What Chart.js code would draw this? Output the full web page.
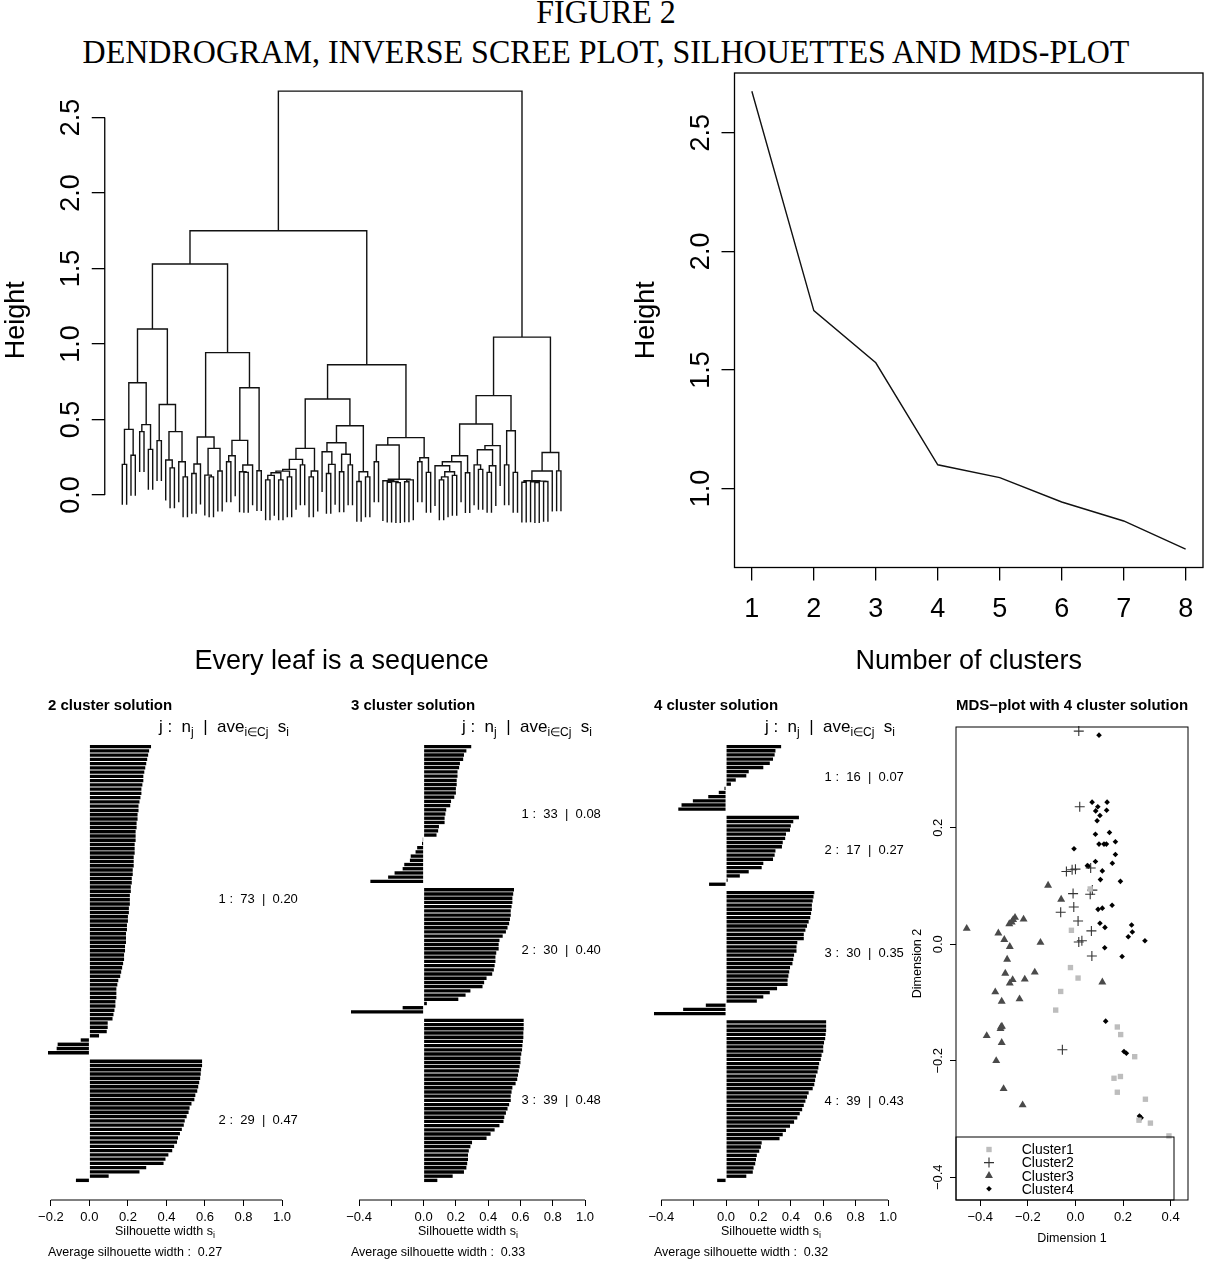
<!DOCTYPE html>
<html>
<head>
<meta charset="utf-8">
<title>Figure 2</title>
<script src="https://cdn.jsdelivr.net/npm/chart.js@4.4.1/dist/chart.umd.min.js"></script>
<style>
  body { margin: 0; background: #fff; }
  #page { position: relative; width: 1212px; height: 1265px; overflow: hidden; background: #fff; }
  canvas { position: absolute; }
  .head { position: absolute; left: 0; width: 1212px; text-align: center; white-space: nowrap;
          font-family: 'Liberation Serif', 'Times New Roman', serif; font-size: 33px; line-height: 33px; color: #000;
          transform: scaleX(0.97); transform-origin: 606px 0; }
</style>
</head>
<body>
<div id="page">
  <div class="head" style="top:-4px">FIGURE 2</div>
  <div class="head" style="top:36px">DENDROGRAM, INVERSE SCREE PLOT, SILHOUETTES AND MDS-PLOT</div>
  <canvas id="dendro" width="606" height="614" style="left:0;top:66px"></canvas>
  <canvas id="scree" width="606" height="614" style="left:606px;top:66px"></canvas>
  <canvas id="sil2" width="303" height="575" style="left:0;top:690px"></canvas>
  <canvas id="sil3" width="303" height="575" style="left:303px;top:690px"></canvas>
  <canvas id="sil4" width="303" height="575" style="left:606px;top:690px"></canvas>
  <canvas id="mds" width="303" height="575" style="left:909px;top:690px"></canvas>
</div>
<script>
const FONT = "'Liberation Sans', Arial, Helvetica, sans-serif";
Chart.defaults.font.family = FONT;
Chart.defaults.color = '#000';
Chart.defaults.animation = false;
Chart.defaults.events = [];
Chart.defaults.plugins.legend.display = false;
Chart.defaults.plugins.tooltip.enabled = false;

// ---------- dendrogram (each node: [height, left, right], L = a leaf) ----------
const L = 0;
const upperMerges = [2.675, 1.75, 1.53];
const clusterA = [1.10,
  [0.744, [0.435, [0.203, L, L], [0.263, L, L]], [0.466, [0.42, L, L], [0.302, L, L]]],
  [0.60, [0.36, L, L], [0.42, [0.232, L, [0.18, L, L]], [0.22, L, [0.12, L, L]]]]];
const clusterB = [0.943,
  [0.384, [0.205, [0.143, L, L], L], [0.309, [0.132, L, [0.12, L, L]], [0.159, L, L]]],
  [0.71, [0.362, [0.26, [0.22, L, L], L], [0.199, [0.154, L, [0.15, L, L]], L]], [0.161, L, L]]];
const clusterC = [0.863,
  [0.636,
    [0.309,
      [0.236, [0.17, [0.158, [0.148, [0.13, [0.1, L, L], L], [0.1, L, L]], [0.12, L, L]], L], [0.2, L, L]],
      [0.159, [0.12, L, L], L]],
    [0.459,
      [0.346, [0.287, L, [0.203, [0.143, L, L], L]], [0.27, [0.154, L, L], [0.2, L, L]]],
      [0.154, [0.09, L, L], [0.12, L, L]]]],
  [0.38,
    [0.331, [0.22, L, L], [0.104, [0.095, L, [0.09, [0.085, L, L], [0.082, L, L]]], [0.1, [0.088, L, L], L]]],
    [0.247, [0.22, L, L], [0.15, L, L]]]];
const clusterD = [1.046,
  [0.658,
    [0.47,
      [0.26, [0.22, [0.194, L, [0.154, [0.12, [0.1, L, L], L], [0.13, L, L]]], L], [0.148, L, L]],
      [0.327, [0.3, [0.2, L, [0.17, L, L]], [0.194, [0.15, L, L], L]], L]],
    [0.426, [0.2, L, L], [0.15, L, L]]],
  [0.282,
    [0.159, [0.095, [0.085, L, L], [0.092, [0.088, L, [0.083, L, L]], [0.09, L, L]]], L],
    [0.16, L, L]]];
const dendroTicks = [0, 0.5, 1, 1.5, 2, 2.5];
const dendroTickLabels = ['0.0', '0.5', '1.0', '1.5', '2.0', '2.5'];

// ---------- inverse scree plot ----------
const screeClusters = [1, 2, 3, 4, 5, 6, 7, 8];
const screeHeights = [2.675, 1.75, 1.53, 1.10, 1.046, 0.943, 0.863, 0.744];
const screeYTicks = [1.0, 1.5, 2.0, 2.5];
const screeYLabels = ['1.0', '1.5', '2.0', '2.5'];

// ---------- silhouettes (bars top to bottom inside each cluster) ----------
const k2c1 = [0.32, 0.31, 0.305, 0.30, 0.295, 0.29, 0.285, 0.28, 0.28, 0.275,
  0.27, 0.27, 0.265, 0.26, 0.255, 0.255, 0.25, 0.25, 0.245, 0.245,
  0.24, 0.24, 0.24, 0.235, 0.235, 0.235, 0.23, 0.23, 0.23, 0.225,
  0.225, 0.22, 0.22, 0.215, 0.215, 0.21, 0.21, 0.21, 0.205, 0.205,
  0.20, 0.20, 0.195, 0.195, 0.19, 0.19, 0.19, 0.185, 0.185, 0.18,
  0.18, 0.175, 0.17, 0.165, 0.16, 0.15, 0.145, 0.14, 0.14, 0.14,
  0.135, 0.135, 0.13, 0.125, 0.12, 0.095, 0.095, 0.09, 0.05,
  -0.045, -0.165, -0.17, -0.215];
const k2c2 = [0.585, 0.585, 0.58, 0.578, 0.575, 0.57, 0.565, 0.56, 0.55, 0.545,
  0.53, 0.52, 0.515, 0.505, 0.495, 0.49, 0.48, 0.47, 0.46, 0.455,
  0.44, 0.43, 0.41, 0.395, 0.385, 0.295, 0.26, 0.10, -0.07];
const k2Means = ['0.20', '0.47'];
const k2Overall = '0.27';

const k3c1 = [0.295, 0.265, 0.25, 0.245, 0.225, 0.22, 0.21, 0.21, 0.205, 0.205,
  0.2, 0.2, 0.19, 0.17, 0.165, 0.14, 0.135, 0.13, 0.13, 0.095, 0.09, 0.08,
  -0.005, -0.01, -0.04, -0.05, -0.08, -0.085, -0.12, -0.13, -0.18, -0.22, -0.33];
const k3c2 = [0.56, 0.555, 0.55, 0.55, 0.545, 0.54, 0.54, 0.535, 0.53, 0.52,
  0.51, 0.49, 0.47, 0.465, 0.465, 0.45, 0.445, 0.445, 0.44, 0.435,
  0.425, 0.39, 0.375, 0.365, 0.29, 0.26, 0.215, 0.02, -0.13, -0.45];
const k3c3 = [0.62, 0.62, 0.62, 0.618, 0.618, 0.615, 0.612, 0.61, 0.605, 0.6,
  0.6, 0.595, 0.59, 0.585, 0.58, 0.57, 0.55, 0.545, 0.54, 0.54,
  0.53, 0.52, 0.51, 0.5, 0.495, 0.47, 0.44, 0.415, 0.39, 0.3,
  0.29, 0.28, 0.275, 0.275, 0.27, 0.265, 0.25, 0.18, 0.085];
const k3Means = ['0.08', '0.40', '0.48'];
const k3Overall = '0.33';

const k4c1 = [0.34, 0.305, 0.3, 0.29, 0.27, 0.23, 0.14, 0.125, 0.06, 0.03,
  -0.01, -0.045, -0.11, -0.205, -0.275, -0.295];
const k4c2 = [0.45, 0.415, 0.4, 0.395, 0.37, 0.365, 0.35, 0.345, 0.305, 0.3,
  0.29, 0.23, 0.22, 0.14, 0.085, 0.01, -0.105];
const k4c3 = [0.545, 0.54, 0.535, 0.53, 0.53, 0.525, 0.52, 0.51, 0.5, 0.49,
  0.48, 0.48, 0.44, 0.435, 0.435, 0.42, 0.415, 0.41, 0.395, 0.39,
  0.385, 0.38, 0.38, 0.315, 0.27, 0.23, 0.19, -0.125, -0.265, -0.445];
const k4c4 = [0.618, 0.618, 0.618, 0.615, 0.612, 0.605, 0.6, 0.6, 0.59, 0.585,
  0.575, 0.57, 0.565, 0.555, 0.55, 0.545, 0.535, 0.51, 0.5, 0.49,
  0.48, 0.47, 0.455, 0.44, 0.42, 0.395, 0.37, 0.35, 0.33, 0.22,
  0.215, 0.205, 0.19, 0.185, 0.18, 0.17, 0.165, 0.125, -0.055];
const k4Means = ['0.07', '0.27', '0.35', '0.43'];
const k4Overall = '0.32';

const silTicksNarrow = [-0.2, 0, 0.2, 0.4, 0.6, 0.8, 1.0];
const silLabelsNarrow = ['\u22120.2', '0.0', '0.2', '0.4', '0.6', '0.8', '1.0'];
const silTicksWide = [-0.4, -0.2, 0, 0.2, 0.4, 0.6, 0.8, 1.0];
const silLabelsWide = ['\u22120.4', '', '0.0', '0.2', '0.4', '0.6', '0.8', '1.0'];

// ---------- MDS plot ----------
const mdsX1 = [-0.017, -0.021, 0.011, -0.062, -0.083, 0.062, 0.176, 0.19, 0.249, 0.162, 0.189, 0.176, 0.294, 0.267, 0.315, 0.393];
const mdsY1 = [0.024, -0.040, -0.058, -0.081, -0.113, 0.095, -0.142, -0.155, -0.193, -0.230, -0.227, -0.254, -0.266, -0.302, -0.307, -0.329];
const mdsX2 = [0.014, 0.018, -0.038, -0.014, 0, 0.064, -0.01, 0.071, 0.062, -0.062, -0.007, 0.011, 0.014, 0.027, 0.067, 0.069, -0.055];
const mdsY2 = [0.366, 0.236, 0.125, 0.128, 0.129, 0.131, 0.087, 0.093, 0.086, 0.055, 0.064, 0.040, 0.004, 0.006, 0.023, -0.020, -0.181];
const mdsX3 = [-0.457, -0.324, -0.299, -0.276, -0.287, -0.295, -0.264, -0.276, -0.337, -0.310,
  -0.235, -0.213, -0.171, -0.147, -0.278, -0.268, -0.254, -0.218, -0.115, -0.060,
  0.113, -0.373, -0.315, -0.309, -0.310, -0.333, -0.302, -0.222, -0.262, -0.313];
const mdsY3 = [0.027, 0.019, 0.008, -0.004, -0.026, -0.050, -0.061, -0.067, -0.082, -0.098,
  -0.094, -0.060, -0.048, 0.003, 0.035, 0.038, 0.046, 0.043, 0.101, 0.077,
  -0.065, -0.157, -0.145, -0.141, -0.169, -0.200, -0.248, -0.276, 0.042, -0.142];
const mdsX4 = [0.099, 0.07, 0.133, 0.094, 0.085, 0.131, 0.103, 0.091, 0.143, 0.084,
  0.099, 0.120, 0.130, 0.168, 0.168, -0.006, 0.055, 0.084, 0.155, 0.113,
  0.105, 0.189, 0.095, 0.113, 0.154, 0.103, 0.124, 0.236, 0.239, 0.222,
  0.292, 0.123, 0.196, 0.127, 0.204, 0.214, 0.269, 0.276, 0.05];
const mdsY4 = [0.359, 0.244, 0.244, 0.236, 0.229, 0.230, 0.221, 0.212, 0.192, 0.189,
  0.172, 0.172, 0.172, 0.176, 0.154, 0.164, 0.134, 0.142, 0.139, 0.126,
  0.111, 0.108, 0.060, 0.062, 0.067, 0.036, 0.029, 0.033, 0.021, 0.013,
  0.006, -0.006, -0.021, -0.132, -0.184, -0.187, -0.295, -0.298, 0.135];
const mdsNames = ['Cluster1', 'Cluster2', 'Cluster3', 'Cluster4'];
const mdsXRange = [-0.502, 0.473];
const mdsYRange = [-0.439, 0.373];
const mdsXTicks = [-0.4, -0.2, 0, 0.2, 0.4];
const mdsXLabels = ['\u22120.4', '\u22120.2', '0.0', '0.2', '0.4'];
const mdsYTicks = [-0.4, -0.2, 0, 0.2];
const mdsYLabels = ['\u22120.4', '\u22120.2', '0.0', '0.2'];

// ---------- helpers ----------
function rotatedYLabels(ctx, scale, ticks, labels, x, size) {
  ctx.save();
  ctx.font = size + 'px ' + FONT;
  ctx.fillStyle = '#000';
  ctx.textAlign = 'center';
  ctx.textBaseline = 'alphabetic';
  ticks.forEach((v, i) => {
    ctx.save();
    ctx.translate(x, scale.getPixelForValue(v));
    ctx.rotate(-Math.PI / 2);
    ctx.fillText(labels[i], 0, 0);
    ctx.restore();
  });
  ctx.restore();
}

// text pieces [text, subscript?] written left to right
function pieceText(ctx, pieces, x, baseline, size, align) {
  const sub = Math.round(size * 0.72);
  let total = 0;
  pieces.forEach(p => { ctx.font = (p[1] ? sub : size) + 'px ' + FONT; total += ctx.measureText(p[0]).width; });
  let cx = align === 'right' ? x - total : align === 'center' ? x - total / 2 : x;
  ctx.textAlign = 'left';
  ctx.textBaseline = 'alphabetic';
  pieces.forEach(p => {
    ctx.font = (p[1] ? sub : size) + 'px ' + FONT;
    ctx.fillText(p[0], cx, baseline + (p[1] ? size * 0.25 : 0));
    cx += ctx.measureText(p[0]).width;
  });
}

function tickGrid(len, width) {
  return { display: true, drawOnChartArea: false, drawTicks: true, tickLength: len, color: '#000', lineWidth: width };
}

// ---------- dendrogram ----------
const dendroTree = [upperMerges[0], [upperMerges[1], [upperMerges[2], clusterA, clusterB], clusterC], clusterD];
const HANG = 0.1 * upperMerges[0];
const dendroSegments = [];
let leafNo = 0;
function placeNode(node) {
  if (node === L) return { x: ++leafNo, h: null };
  const [h, a, b] = node;
  const p = placeNode(a), q = placeNode(b);
  dendroSegments.push(
    { x: p.x, y: p.h === null ? h - HANG : p.h },
    { x: p.x, y: h }, { x: q.x, y: h },
    { x: q.x, y: q.h === null ? h - HANG : q.h },
    { x: q.x, y: null });
  return { x: (p.x + q.x) / 2, h: h };
}
placeNode(dendroTree);

new Chart(document.getElementById('dendro'), {
  type: 'scatter',
  data: { datasets: [{ data: dendroSegments, showLine: true, spanGaps: false, borderColor: '#111',
                       borderWidth: 1.4, pointRadius: 0 }] },
  options: {
    responsive: false,
    layout: { padding: { top: 7, right: 27.5, left: 0, bottom: 0 } },
    scales: {
      x: {
        type: 'linear', min: 1 - 0.04 * (leafNo - 1), max: leafNo + 0.04 * (leafNo - 1),
        grid: { display: false }, border: { display: false }, ticks: { display: false },
        title: { display: true, text: 'Every leaf is a sequence', font: { size: 27 }, padding: { top: 0, bottom: 1.8 } },
        afterFit: s => { s.height = 112.5; }
      },
      y: {
        type: 'linear', min: -0.48, max: 2.795,
        afterBuildTicks: s => { s.ticks = dendroTicks.map(v => ({ value: v })); },
        grid: tickGrid(13, 1.3), border: { display: false }, ticks: { display: false },
        title: { display: true, text: 'Height', font: { size: 27 }, padding: { top: 0, bottom: 0 } },
        afterFit: s => { s.width = 104.75; }
      }
    }
  },
  plugins: [{
    id: 'dendroAxis',
    afterDraw(chart) {
      const { ctx, chartArea: a, scales: { y } } = chart;
      ctx.save();
      ctx.strokeStyle = '#000';
      ctx.lineWidth = 1.3;
      ctx.beginPath();
      ctx.moveTo(a.left, y.getPixelForValue(dendroTicks[0]));
      ctx.lineTo(a.left, y.getPixelForValue(dendroTicks[dendroTicks.length - 1]));
      ctx.stroke();
      ctx.restore();
      rotatedYLabels(ctx, y, dendroTicks, dendroTickLabels, a.left - 26, 27);
    }
  }]
});

// ---------- scree ----------
const screeLo = Math.min(...screeHeights), screeHi = Math.max(...screeHeights);
const screePad = 0.04 * (screeHi - screeLo);
const screeXPad = 0.04 * (screeClusters[screeClusters.length - 1] - screeClusters[0]);
new Chart(document.getElementById('scree'), {
  type: 'scatter',
  data: { datasets: [{ data: screeClusters.map((k, i) => ({ x: k, y: screeHeights[i] })), showLine: true,
                       borderColor: '#111', borderWidth: 1.4, pointRadius: 0 }] },
  options: {
    responsive: false,
    layout: { padding: { top: 7, right: 9, left: 0, bottom: 0 } },
    scales: {
      x: {
        type: 'linear', min: screeClusters[0] - screeXPad, max: screeClusters[screeClusters.length - 1] + screeXPad,
        afterBuildTicks: s => { s.ticks = screeClusters.map(v => ({ value: v })); },
        grid: tickGrid(13, 1.3), border: { display: false },
        ticks: { font: { size: 27 }, padding: 13, maxRotation: 0, autoSkip: false, callback: v => String(v) },
        title: { display: true, text: 'Number of clusters', font: { size: 27 }, padding: { top: 0, bottom: 1.8 } },
        afterFit: s => { s.height = 112.5; }
      },
      y: {
        type: 'linear', min: screeLo - screePad, max: screeHi + screePad,
        afterBuildTicks: s => { s.ticks = screeYTicks.map(v => ({ value: v })); },
        grid: tickGrid(13, 1.3), border: { display: false }, ticks: { display: false },
        title: { display: true, text: 'Height', font: { size: 27 }, padding: { top: 24.8, bottom: 0 } },
        afterFit: s => { s.width = 128.5; }
      }
    }
  },
  plugins: [{
    id: 'screeBox',
    afterDraw(chart) {
      const { ctx, chartArea: a, scales: { y } } = chart;
      ctx.save();
      ctx.strokeStyle = '#000';
      ctx.lineWidth = 1.3;
      ctx.strokeRect(a.left, a.top, a.right - a.left, a.bottom - a.top);
      ctx.restore();
      rotatedYLabels(ctx, y, screeYTicks, screeYLabels, a.left - 26, 27);
    }
  }]
});

// ---------- silhouettes ----------
function silhouettePlot(id, title, clusters, means, overall, ticks, tickLabels) {
  const bars = [];
  const mids = [];
  let slot = 0;
  clusters.forEach((vals, ci) => {
    if (ci > 0) slot += 1;
    const first = slot;
    vals.forEach(v => { bars.push({ x: v, y: slot + 0.5 }); slot += 1; });
    mids.push((first + slot) / 2);
  });
  const total = slot;
  const lo = Math.min(0, ...bars.map(b => b.x));

  new Chart(document.getElementById(id), {
    type: 'bar',
    data: { datasets: [{ data: bars, backgroundColor: '#000', borderWidth: 0, barPercentage: 0.8, categoryPercentage: 1 }] },
    options: {
      responsive: false,
      indexAxis: 'y',
      layout: { padding: { left: 48, right: 21, top: 37, bottom: 0 } },
      scales: {
        x: {
          type: 'linear', min: lo, max: 1,
          afterBuildTicks: s => { s.ticks = ticks.map(v => ({ value: v })); },
          grid: tickGrid(6, 1), border: { display: false },
          ticks: { font: { size: 13 }, padding: 4, maxRotation: 0, autoSkip: false, callback: (v, i) => tickLabels[i] },
          afterFit: s => { s.height = 65; }
        },
        y: { type: 'linear', display: false, reverse: true, offset: false, min: -0.04 * total, max: 1.04 * total }
      }
    },
    plugins: [{
      id: 'silText',
      afterDraw(chart) {
        const { ctx, chartArea: a, scales: { x, y } } = chart;
        ctx.save();
        ctx.strokeStyle = '#000';
        ctx.fillStyle = '#000';
        ctx.lineWidth = 1;
        ctx.beginPath();
        ctx.moveTo(x.getPixelForValue(ticks[0]), a.bottom);
        ctx.lineTo(x.getPixelForValue(ticks[ticks.length - 1]), a.bottom);
        ctx.stroke();

        ctx.font = 'bold 15px ' + FONT;
        ctx.textAlign = 'left';
        ctx.textBaseline = 'alphabetic';
        ctx.fillText(title, a.left, 20);

        pieceText(ctx, [['j :  n', 0], ['j', 1], ['  |  ave', 0], ['i\u2208Cj', 1], ['  s', 0], ['i', 1]],
                  a.right + 0.03 * (a.right - a.left), 42, 17, 'right');

        ctx.font = '13px ' + FONT;
        ctx.textBaseline = 'middle';
        clusters.forEach((vals, i) => {
          const txt = (i + 1) + ' :  ' + vals.length + '  |  ' + means[i];
          const w = ctx.measureText(txt).width;
          ctx.fillText(txt, x.getPixelForValue(1) - 0.8 * w, y.getPixelForValue(mids[i]));
        });

        pieceText(ctx, [['Silhouette width s', 0], ['i', 1]], (a.left + a.right) / 2, 545, 12.5, 'center');

        ctx.font = '12.5px ' + FONT;
        ctx.textAlign = 'left';
        ctx.textBaseline = 'alphabetic';
        ctx.fillText('Average silhouette width :  ' + overall, a.left, 565.5);
        ctx.restore();
      }
    }]
  });
}

silhouettePlot('sil2', '2 cluster solution', [k2c1, k2c2], k2Means, k2Overall, silTicksNarrow, silLabelsNarrow);
silhouettePlot('sil3', '3 cluster solution', [k3c1, k3c2, k3c3], k3Means, k3Overall, silTicksWide, silLabelsWide);
silhouettePlot('sil4', '4 cluster solution', [k4c1, k4c2, k4c3, k4c4], k4Means, k4Overall, silTicksWide, silLabelsWide);

// ---------- MDS ----------
const pts = (xs, ys) => xs.map((v, i) => ({ x: v, y: ys[i] }));
const mdsStyles = [
  { pointStyle: 'rect', radius: 3.8, fill: '#bdbdbd', stroke: '#bdbdbd', width: 0 },
  { pointStyle: 'cross', radius: 5, fill: '#333', stroke: '#333', width: 1.1 },
  { pointStyle: 'triangle', radius: 4.6, fill: '#4a4a4a', stroke: '#4a4a4a', width: 0 },
  { pointStyle: 'rectRot', radius: 2.8, fill: '#000', stroke: '#000', width: 0 }
];
const mdsSeries = [pts(mdsX1, mdsY1), pts(mdsX2, mdsY2), pts(mdsX3, mdsY3), pts(mdsX4, mdsY4)];

new Chart(document.getElementById('mds'), {
  type: 'scatter',
  data: {
    datasets: mdsSeries.map((d, i) => ({
      label: mdsNames[i], data: d, clip: false,
      pointStyle: mdsStyles[i].pointStyle, pointRadius: mdsStyles[i].radius,
      backgroundColor: mdsStyles[i].fill, borderColor: mdsStyles[i].stroke, borderWidth: mdsStyles[i].width
    }))
  },
  options: {
    responsive: false,
    layout: { padding: { left: 0, right: 24, top: 37, bottom: 0 } },
    scales: {
      x: {
        type: 'linear', min: mdsXRange[0], max: mdsXRange[1],
        afterBuildTicks: s => { s.ticks = mdsXTicks.map(v => ({ value: v })); },
        grid: tickGrid(6, 1), border: { display: false },
        ticks: { font: { size: 13 }, padding: 4, maxRotation: 0, autoSkip: false, callback: (v, i) => mdsXLabels[i] },
        title: { display: true, text: 'Dimension 1', font: { size: 12.5 }, padding: { top: 0, bottom: 18.5 } },
        afterFit: s => { s.height = 65; }
      },
      y: {
        type: 'linear', min: mdsYRange[0], max: mdsYRange[1],
        afterBuildTicks: s => { s.ticks = mdsYTicks.map(v => ({ value: v })); },
        grid: tickGrid(6, 1), border: { display: false }, ticks: { display: false },
        title: { display: true, text: 'Dimension 2', font: { size: 12.5 }, padding: { top: 1.5, bottom: 0 } },
        afterFit: s => { s.width = 47; }
      }
    }
  },
  plugins: [{
    id: 'mdsExtras',
    afterDraw(chart) {
      const { ctx, chartArea: a, scales: { y } } = chart;
      ctx.save();
      ctx.strokeStyle = '#000';
      ctx.lineWidth = 1;
      ctx.strokeRect(a.left, a.top, a.right - a.left, a.bottom - a.top);
      ctx.restore();
      rotatedYLabels(ctx, y, mdsYTicks, mdsYLabels, a.left - 14.3, 13);

      ctx.save();
      ctx.fillStyle = '#000';
      ctx.font = 'bold 15px ' + FONT;
      ctx.textAlign = 'center';
      ctx.textBaseline = 'alphabetic';
      ctx.fillText('MDS\u2212plot with 4 cluster solution', (a.left + a.right) / 2, 20);

      // legend box in the lower left corner
      ctx.strokeStyle = '#000';
      ctx.lineWidth = 1;
      ctx.strokeRect(a.left, a.bottom - 63, 218, 63);
      ctx.font = '14px ' + FONT;
      ctx.textAlign = 'left';
      ctx.textBaseline = 'middle';
      mdsNames.forEach((name, i) => {
        const yy = a.bottom - 50.5 + i * 13.1;
        const st = mdsStyles[i];
        ctx.fillStyle = st.fill;
        ctx.strokeStyle = st.stroke;
        ctx.lineWidth = st.width || 1;
        Chart.helpers.drawPoint(ctx, { pointStyle: st.pointStyle, radius: st.radius, borderWidth: st.width, rotation: 0 }, a.left + 33, yy);
        ctx.fillStyle = '#000';
        ctx.fillText(name, a.left + 65.7, yy + 1);
      });
      ctx.restore();
    }
  }]
});
</script>
</body>
</html>
